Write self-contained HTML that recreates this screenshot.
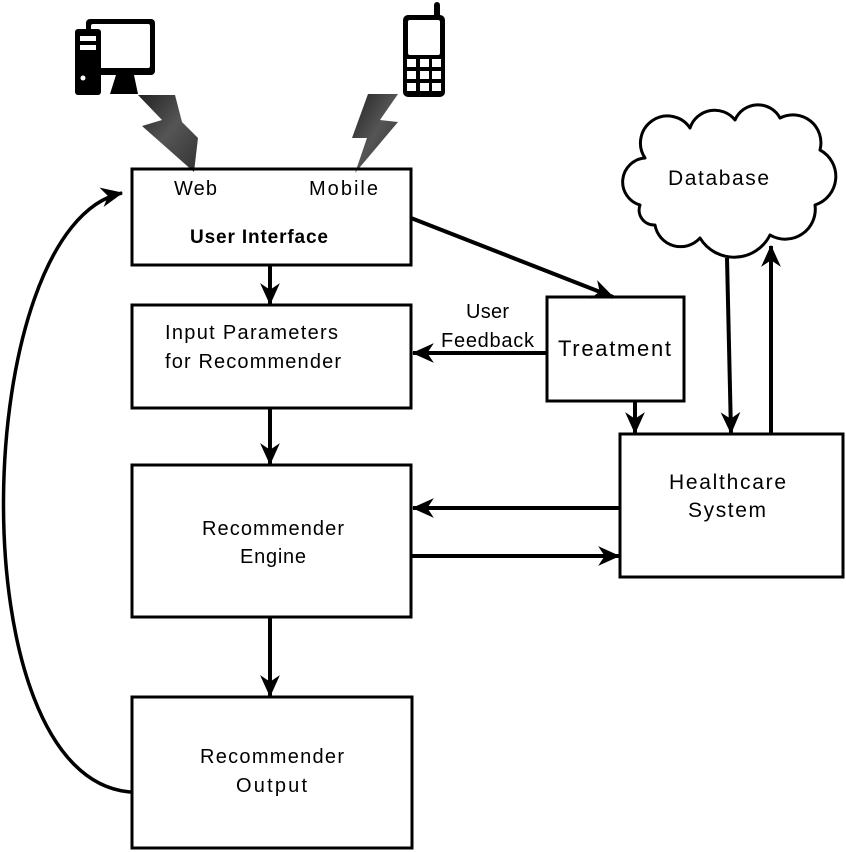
<!DOCTYPE html>
<html><head><meta charset="utf-8"><style>html,body{margin:0;padding:0;background:#fff}svg{display:block}</style></head>
<body>
<svg width="846" height="852" viewBox="0 0 846 852" xmlns="http://www.w3.org/2000/svg" font-family="Liberation Sans, sans-serif" font-size="20">
<defs>
<marker id="a" viewBox="0 0 20 20" refX="19" refY="10" markerWidth="22" markerHeight="22" markerUnits="userSpaceOnUse" orient="auto">
<path d="M0,1 L20,10 L0,19 L6,10 z" fill="#000"/>
</marker>
<linearGradient id="g" x1="0" y1="0" x2="1" y2="1"><stop offset="0" stop-color="#222"/><stop offset="0.5" stop-color="#555"/><stop offset="1" stop-color="#333"/></linearGradient>
</defs>

<!-- computer -->
<rect x="86" y="19" width="69" height="56" rx="4" fill="#000"/>
<rect x="91" y="24" width="59" height="44" rx="2" fill="#fff"/>
<polygon points="116,75 134,75 138,94 110,94" fill="#000"/>
<rect x="75" y="29" width="26" height="66" rx="3" fill="#000"/>
<rect x="80" y="36" width="16" height="5" fill="#fff"/>
<rect x="80" y="45" width="16" height="5" fill="#fff"/>
<circle cx="83" cy="78" r="2.5" fill="#fff"/>

<!-- phone -->
<rect x="434" y="2" width="6" height="16" rx="3" fill="#000"/>
<rect x="403" y="15" width="42" height="82" rx="5" fill="#000"/>
<rect x="408" y="20" width="32" height="35" rx="2" fill="#fff"/>
<g fill="#fff">
<rect x="407" y="59" width="9" height="8"/><rect x="420" y="59" width="9" height="8"/><rect x="432" y="59" width="9" height="8"/>
<rect x="407" y="71" width="9" height="8"/><rect x="420" y="71" width="9" height="8"/><rect x="432" y="71" width="9" height="8"/>
<rect x="407" y="83" width="9" height="8"/><rect x="420" y="83" width="9" height="8"/><rect x="432" y="83" width="9" height="8"/>
</g>

<!-- bolts -->
<polygon points="138,95 175,95 182,122 198,138 194,172 142,126 162,120" fill="url(#g)"/>
<polygon points="368,94 398,94 380,120 398,122 355,173 367,138 352,138" fill="url(#g)"/>

<g fill="none" stroke="#000" stroke-width="3">
<rect x="132" y="169" width="279" height="96"/>
<rect x="132" y="305" width="279" height="103"/>
<rect x="132" y="465" width="279" height="152"/>
<rect x="132" y="697" width="280" height="151"/>
<rect x="547" y="297" width="137" height="104"/>
<rect x="620" y="434" width="223" height="143"/>
<path d="M640,205 A24,24 0 0 1 645,158 A27,27 0 0 1 690,128 A26,26 0 0 1 735,120 A25,25 0 0 1 780,118 A28,28 0 0 1 820,150 A30,30 0 0 1 815,205 A30,30 0 0 1 770,235 A40,40 0 0 1 700,238 A26,26 0 0 1 655,225 A15,15 0 0 1 640,205 Z" stroke-linejoin="round"/>
</g>

<g fill="none" stroke="#000" stroke-width="4" marker-end="url(#a)">
<line x1="270" y1="265" x2="270" y2="304"/>
<line x1="270" y1="408" x2="270" y2="464"/>
<line x1="270" y1="617" x2="270" y2="696"/>
<line x1="411" y1="218" x2="613" y2="297"/>
<line x1="547" y1="353" x2="413" y2="353"/>
<line x1="635" y1="401" x2="635" y2="433"/>
<line x1="620" y1="508" x2="413" y2="508"/>
<line x1="411" y1="556" x2="619" y2="556"/>
<line x1="727" y1="258" x2="731" y2="433"/>
<line x1="771" y1="434" x2="771" y2="246"/>
<path d="M131,792 C-45,780 -30,225 122,193" stroke-width="3.5"/>
</g>

<g fill="#000">
<text x="174" y="195" textLength="43">Web</text>
<text x="309" y="195" textLength="69">Mobile</text>
<text x="190" y="243" font-weight="bold" font-size="19" textLength="138">User Interface</text>
<text x="165" y="339" textLength="173">Input  Parameters</text>
<text x="165" y="368" textLength="176">for Recommender</text>
<text x="466" y="318" textLength="43">User</text>
<text x="441" y="347" textLength="93">Feedback</text>
<text x="558" y="356" font-size="22" textLength="113">Treatment</text>
<text x="668" y="185" font-size="21" textLength="101">Database</text>
<text x="669" y="489" font-size="21" textLength="117">Healthcare</text>
<text x="688" y="517" font-size="21" textLength="78">System</text>
<text x="202" y="535" textLength="142">Recommender</text>
<text x="240" y="563" textLength="66">Engine</text>
<text x="200" y="763" textLength="144">Recommender</text>
<text x="236" y="792" textLength="71">Output</text>
</g>
</svg>
</body></html>
